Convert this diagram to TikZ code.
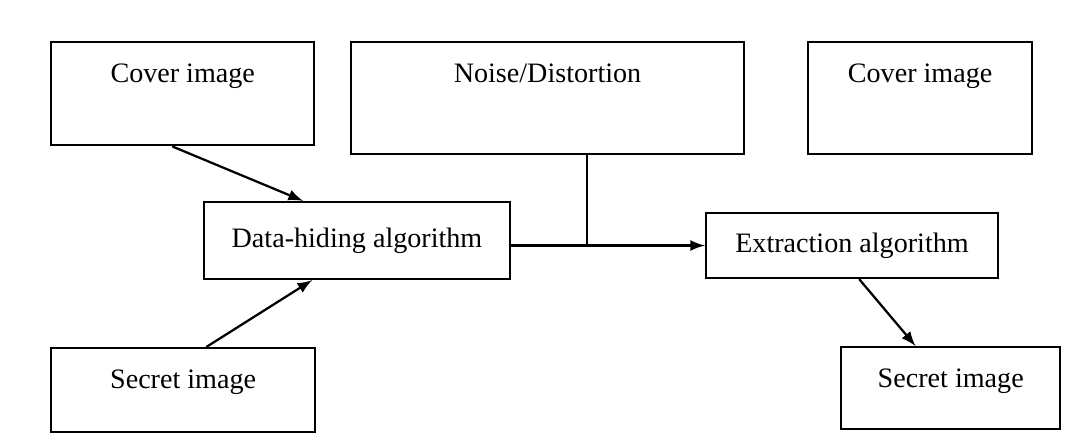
\documentclass[tikz,border=0pt]{standalone}
\usepackage{fontspec}
\setmainfont{Liberation Serif}
\usetikzlibrary{shapes,arrows,positioning}

\begin{document}
\begin{tikzpicture}[>=latex, line width=0.8pt,
    imgbox/.style 2 args={draw, rectangle, inner ysep=0pt, minimum width=#1, text height=0.5cm, text depth=#2, anchor=north west},
    algbox/.style 2 args={draw, rectangle, minimum width=#1, minimum height=#2}]

\useasboundingbox (0,0) rectangle (13.475,5.425);

% Embedding side
\node[imgbox={3.29cm}{0.79cm}] (cov1) at (0.625, 4.9125) {Cover image};
\node[imgbox={3.30cm}{0.55cm}] (sec1) at (0.625, 1.0875) {Secret image};
\node[algbox={3.825cm}{0.9625cm}] (hide) at (4.4625, 2.419) {Data-hiding algorithm};

% Channel
\node[imgbox={4.91cm}{0.9cm}] (noise) at (4.375, 4.9125) {Noise/Distortion};

% Extraction side
\node[imgbox={2.80cm}{0.9cm}] (cov2) at (10.0875, 4.9125) {Cover image};
\node[algbox={3.65cm}{0.8125cm}] (extr) at (10.65, 2.356) {Extraction algorithm};
\node[imgbox={2.74cm}{0.525cm}] (sec2) at (10.5, 1.1) {Secret image};

\coordinate (join) at ([xshift=0.49cm]noise.south |- extr.west);

\draw[->] ([xshift=-0.13cm]cov1.south) -- ([xshift=-0.675cm]hide.north);
\draw[->] ([xshift=0.29cm]sec1.north) -- ([xshift=-0.56cm]hide.south);
\draw[->] (hide.east |- extr.west) -- (extr.west);
\draw ([xshift=0.49cm]noise.south) -- (join);
\draw[->] ([xshift=0.09cm]extr.south) -- ([xshift=-0.44cm]sec2.north);

\end{tikzpicture}
\end{document}
